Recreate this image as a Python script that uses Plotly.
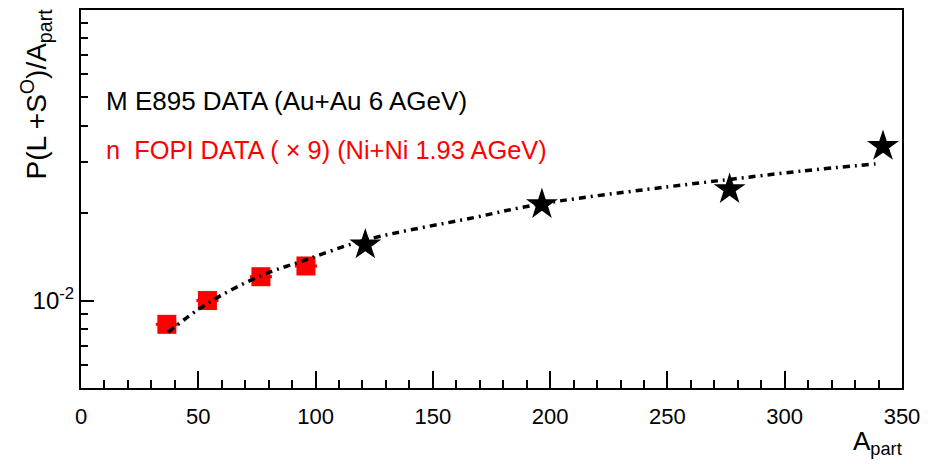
import plotly.graph_objects as go

# ---- data ----
e895_apart = [121.2, 196.5, 276.5, 341.9]
e895_yield = [0.01556, 0.02143, 0.02413, 0.03396]

fopi_apart = [36.6, 53.9, 76.7, 95.9]
fopi_yield = [0.00828, 0.01000, 0.01208, 0.01315]
fopi_apart_err = [4.7, 4.7, 4.7, 4.7]

curve_apart = [37.2, 53.6, 76.7, 94.8, 121.2, 167.4, 196.5, 264.1, 276.5, 306.7, 338.7]
curve_yield = [0.00779, 0.00974, 0.01218, 0.01371, 0.01615, 0.01929, 0.02154,
               0.02542, 0.02611, 0.02788, 0.02953]

y_major_vals = [0.01]
y_major_text = ["10<sup>-2</sup>"]
y_minor_vals = [0.006, 0.007, 0.008, 0.009, 0.02, 0.03, 0.04, 0.05, 0.06, 0.07, 0.08, 0.09]

legend_e895 = "M E895 DATA (Au+Au 6 AGeV)"
legend_fopi = "n\u00a0 FOPI DATA ( \u00d7 9) (Ni+Ni 1.93 AGeV)"

FONT = "Liberation Sans, Arial, Helvetica, sans-serif"

fig = go.Figure()

fig.add_trace(go.Scatter(
    x=fopi_apart, y=fopi_yield, mode="markers",
    marker=dict(symbol="square", size=19, color="#ff0000", line=dict(width=0)),
    error_x=dict(type="data", array=fopi_apart_err, color="#ff0000", thickness=3, width=0),
    showlegend=False,
))
fig.add_trace(go.Scatter(
    x=e895_apart, y=e895_yield, mode="markers",
    marker=dict(symbol="star", size=24, color="black", line=dict(width=0)),
    showlegend=False,
))
fig.add_trace(go.Scatter(
    x=curve_apart, y=curve_yield, mode="lines",
    line=dict(color="black", width=3.5, dash="7px,5px,2px,5px", shape="spline"),
    showlegend=False,
))

fig.update_layout(
    width=928, height=464,
    margin=dict(l=81, r=26, t=8, b=76),
    paper_bgcolor="white", plot_bgcolor="white",
    font=dict(family=FONT, color="black", size=22),
    xaxis=dict(
        range=[0, 350], showgrid=False, zeroline=False,
        showline=True, linecolor="black", linewidth=2, mirror=True,
        tickmode="linear", tick0=0, dtick=50,
        ticks="inside", ticklen=17, tickwidth=2, tickcolor="black",
        tickfont=dict(size=22), ticklabelstandoff=8,
        minor=dict(tickmode="linear", tick0=0, dtick=10, ticks="inside",
                   ticklen=8, tickwidth=2, tickcolor="black"),
    ),
    yaxis=dict(
        type="log", range=[-2.30103, -1.0], showgrid=False, zeroline=False,
        showline=True, linecolor="black", linewidth=2, mirror=True,
        tickmode="array", tickvals=y_major_vals, ticktext=y_major_text,
        ticks="inside", ticklen=13, tickwidth=2, tickcolor="black",
        tickfont=dict(size=24),
        minor=dict(tickmode="array", tickvals=y_minor_vals, ticks="inside",
                   ticklen=7, tickwidth=2, tickcolor="black"),
    ),
    annotations=[
        dict(text=legend_e895, xref="paper", yref="paper", x=(104 - 81) / 821, y=(388 - 99) / 380,
             xanchor="left", yanchor="middle", showarrow=False,
             font=dict(size=26, color="black", family=FONT)),
        dict(text=legend_fopi, xref="paper", yref="paper", x=(104 - 81) / 821, y=(388 - 149) / 380,
             xanchor="left", yanchor="middle", showarrow=False,
             font=dict(size=25.4, color="#ff0000", family=FONT)),
        dict(text="P(L +S<sup>O</sup>)/A<sub>part</sub>", xref="paper", yref="paper",
             x=(14 - 81) / 821, y=(388 - 5) / 380, xanchor="left", yanchor="top",
             textangle=-90, showarrow=False, font=dict(size=28, color="black", family=FONT)),
        dict(text="A<sub>part</sub>", xref="paper", yref="paper",
             x=(904 - 81) / 821, y=(388 - 424) / 380, xanchor="right", yanchor="top",
             showarrow=False, font=dict(size=26, color="black", family=FONT)),
    ],
)

fig.write_html("out.html", config={"displayModeBar": False},
               post_script="document.body.style.margin='0';")
